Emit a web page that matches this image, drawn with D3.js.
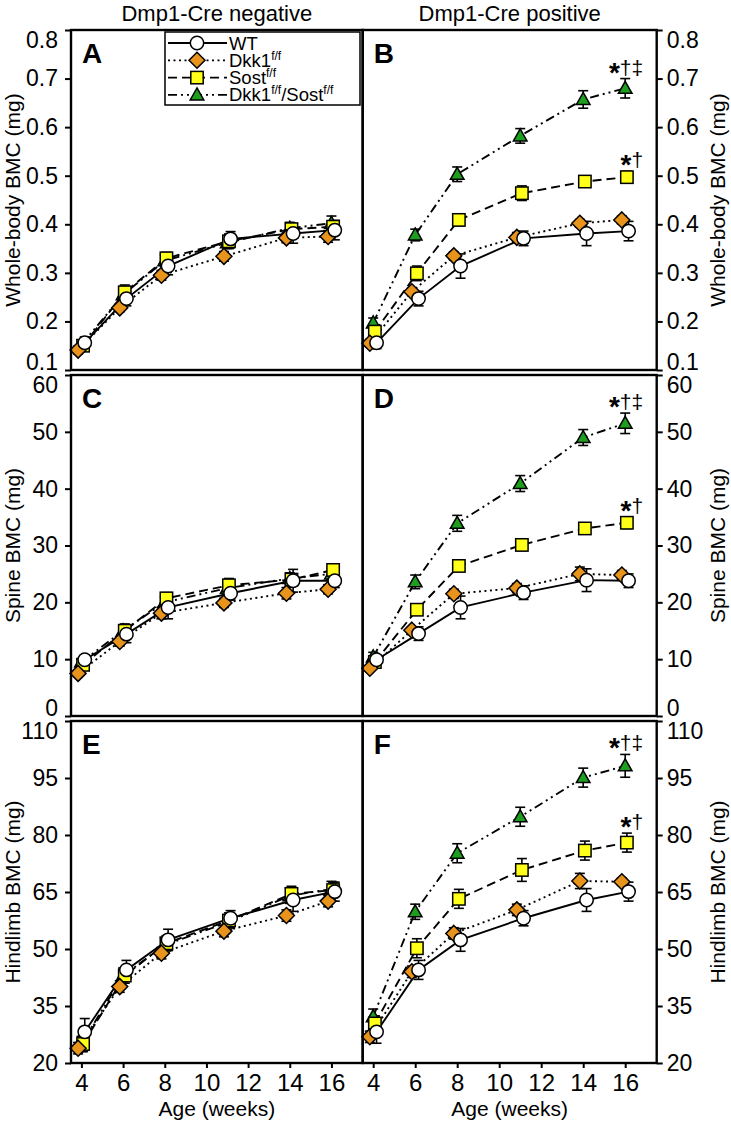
<!DOCTYPE html>
<html>
<head>
<meta charset="utf-8">
<script src="https://cdn.jsdelivr.net/npm/d3@7"></script>
<style>
  body { margin: 0; background: #fff; }
  text { font-family: "Liberation Sans", Arial, sans-serif; fill: #000; }
</style>
</head>
<body>
<svg id="chart" width="731" height="1124"></svg>
<script>
// ages (weeks)
var weeks = [4, 6, 8, 11, 14, 16];
var xTicks = [4, 6, 8, 10, 12, 14, 16];

// series: WT, Dkk1 f/f, Sost f/f, Dkk1 f/f / Sost f/f
// A - whole body, Cre negative
var A_WT   = [0.156, 0.247, 0.314, 0.370, 0.381, 0.388];
var A_Dkk1 = [0.141, 0.228, 0.295, 0.334, 0.372, 0.375];
var A_Sost = [0.150, 0.260, 0.330, 0.365, 0.390, 0.395];
var A_DS   = [0.152, 0.255, 0.325, 0.362, 0.392, 0.402];
var A_WT_se   = [0.012, 0.015, 0.018, 0.015, 0.020, 0.020];
var A_Dkk1_se = [0.008, 0.008, 0.010, 0.010, 0.010, 0.012];
var A_Sost_se = [0.010, 0.015, 0.012, 0.015, 0.012, 0.012];
var A_DS_se   = [0.010, 0.015, 0.012, 0.012, 0.012, 0.015];
// B - whole body, Cre positive
var B_WT   = [0.156, 0.247, 0.314, 0.371, 0.381, 0.386];
var B_Dkk1 = [0.155, 0.261, 0.335, 0.373, 0.402, 0.409];
var B_Sost = [0.179, 0.299, 0.409, 0.464, 0.488, 0.497];
var B_DS   = [0.197, 0.378, 0.503, 0.582, 0.657, 0.680];
var B_WT_se   = [0.012, 0.015, 0.025, 0.015, 0.025, 0.020];
var B_Dkk1_se = [0.008, 0.008, 0.008, 0.010, 0.008, 0.008];
var B_Sost_se = [0.010, 0.015, 0.012, 0.015, 0.010, 0.012];
var B_DS_se   = [0.010, 0.012, 0.015, 0.015, 0.018, 0.020];
// C - spine, Cre negative
var C_WT   = [9.9, 14.4, 19.1, 21.6, 23.8, 23.8];
var C_Dkk1 = [7.5, 13.1, 18.1, 19.9, 21.6, 22.3];
var C_Sost = [9.0, 15.0, 20.7, 23.0, 24.0, 25.7];
var C_DS   = [9.5, 15.0, 20.0, 22.5, 24.2, 25.0];
var C_WT_se   = [0.8, 1.5, 2.0, 1.2, 2.0, 1.2];
var C_Dkk1_se = [0.6, 0.8, 1.0, 0.8, 1.0, 0.8];
var C_Sost_se = [0.6, 1.2, 1.0, 1.2, 1.0, 1.0];
var C_DS_se   = [0.6, 1.0, 1.0, 1.0, 1.0, 1.0];
// D - spine, Cre positive
var D_WT   = [9.9, 14.5, 19.1, 21.7, 23.9, 23.8];
var D_Dkk1 = [8.4, 15.1, 21.5, 22.5, 25.0, 24.8];
var D_Sost = [9.5, 18.7, 26.4, 30.1, 33.0, 34.0];
var D_DS   = [10.4, 23.6, 33.9, 40.9, 49.0, 51.5];
var D_WT_se   = [0.8, 1.2, 2.0, 1.2, 2.0, 1.2];
var D_Dkk1_se = [0.5, 0.6, 0.8, 0.8, 1.2, 0.8];
var D_Sost_se = [0.6, 0.8, 0.8, 1.0, 0.8, 1.0];
var D_DS_se   = [0.8, 1.2, 1.4, 1.4, 1.4, 1.8];
// E - hindlimb, Cre negative
var E_WT   = [28.2, 44.5, 52.4, 58.1, 62.9, 65.1];
var E_Dkk1 = [23.9, 40.1, 48.9, 54.7, 58.8, 62.6];
var E_Sost = [25.0, 43.0, 51.5, 57.5, 64.5, 65.5];
var E_DS   = [25.0, 43.0, 51.0, 57.0, 64.0, 65.8];
var E_WT_se   = [3.5, 2.5, 2.8, 2.0, 3.0, 2.5];
var E_Dkk1_se = [1.5, 1.5, 1.5, 1.5, 1.5, 1.5];
var E_Sost_se = [2.0, 2.0, 2.0, 2.0, 2.0, 2.0];
var E_DS_se   = [2.0, 2.0, 2.0, 2.0, 2.0, 2.0];
// F - hindlimb, Cre positive
var F_WT   = [28.2, 44.5, 52.4, 58.1, 62.9, 65.1];
var F_Dkk1 = [26.9, 44.0, 54.1, 60.3, 67.9, 67.7];
var F_Sost = [30.4, 50.2, 63.2, 70.8, 75.9, 78.0];
var F_DS   = [32.2, 59.8, 75.2, 84.8, 95.1, 98.2];
var F_WT_se   = [3.0, 2.5, 3.0, 2.0, 3.0, 2.5];
var F_Dkk1_se = [1.5, 1.5, 1.5, 1.5, 2.0, 1.0];
var F_Sost_se = [2.0, 2.5, 2.5, 3.0, 2.5, 2.5];
var F_DS_se   = [2.0, 2.0, 2.5, 2.5, 2.5, 3.0];

var yTicksWB    = [0.1, 0.2, 0.3, 0.4, 0.5, 0.6, 0.7, 0.8];
var yTicksSpine = [0, 10, 20, 30, 40, 50, 60];
var yTicksHind  = [20, 35, 50, 65, 80, 95, 110];
var yTitles = ['Whole-body BMC (mg)', 'Spine BMC (mg)', 'Hindlimb BMC (mg)'];
var colTitles = ['Dmp1-Cre negative', 'Dmp1-Cre positive'];
var sigDS = ['*', '†‡'];
var sigSost = ['*', '†'];

var svg = d3.select('#chart');
svg.append('rect').attr('width', 731).attr('height', 1124).attr('fill', '#fff');

var colX = [[71, 362.7], [362.7, 656.7]];
var rowY = [[370, 30], [716, 375], [1063, 721]];
var rowDomain = [[0.1, 0.8], [0, 60], [20, 110]];
var rowTicks = [yTicksWB, yTicksSpine, yTicksHind];
var rowFmt = [d3.format('.1f'), d3.format('d'), d3.format('d')];

// drawing order: green, yellow, orange, white on top
var styles = [
  { key: 'DS',   dash: '9,4,2,4,2,4', fill: '#1e9e1e', shape: 'tri',  off: 0 },
  { key: 'Sost', dash: '9,5',         fill: '#ffff1a', shape: 'sq',   off: 0.08 },
  { key: 'Dkk1', dash: '2,3.5',       fill: '#e8941c', shape: 'dia',  off: -0.16 },
  { key: 'WT',   dash: null,          fill: '#ffffff', shape: 'circ', off: 0.16 }
];

var panels = [
  { id: 'A', col: 0, row: 0, m: { WT: A_WT, Dkk1: A_Dkk1, Sost: A_Sost, DS: A_DS }, se: { WT: A_WT_se, Dkk1: A_Dkk1_se, Sost: A_Sost_se, DS: A_DS_se } },
  { id: 'B', col: 1, row: 0, m: { WT: B_WT, Dkk1: B_Dkk1, Sost: B_Sost, DS: B_DS }, se: { WT: B_WT_se, Dkk1: B_Dkk1_se, Sost: B_Sost_se, DS: B_DS_se } },
  { id: 'C', col: 0, row: 1, m: { WT: C_WT, Dkk1: C_Dkk1, Sost: C_Sost, DS: C_DS }, se: { WT: C_WT_se, Dkk1: C_Dkk1_se, Sost: C_Sost_se, DS: C_DS_se } },
  { id: 'D', col: 1, row: 1, m: { WT: D_WT, Dkk1: D_Dkk1, Sost: D_Sost, DS: D_DS }, se: { WT: D_WT_se, Dkk1: D_Dkk1_se, Sost: D_Sost_se, DS: D_DS_se } },
  { id: 'E', col: 0, row: 2, m: { WT: E_WT, Dkk1: E_Dkk1, Sost: E_Sost, DS: E_DS }, se: { WT: E_WT_se, Dkk1: E_Dkk1_se, Sost: E_Sost_se, DS: E_DS_se } },
  { id: 'F', col: 1, row: 2, m: { WT: F_WT, Dkk1: F_Dkk1, Sost: F_Sost, DS: F_DS }, se: { WT: F_WT_se, Dkk1: F_Dkk1_se, Sost: F_Sost_se, DS: F_DS_se } }
];

function marker(g, shape, fill) {
  var p;
  if (shape == 'circ') p = g.append('circle').attr('r', 6.7);
  else if (shape == 'sq') p = g.append('rect').attr('x', -6.2).attr('y', -6.2).attr('width', 12.4).attr('height', 12.4);
  else if (shape == 'dia') p = g.append('path').attr('d', 'M0,-8L8,0L0,8L-8,0Z');
  else p = g.append('path').attr('d', 'M0,-7L6.8,5L-6.8,5Z');
  p.attr('fill', fill).attr('stroke', '#000').attr('stroke-width', 1.5);
}

panels.forEach(function(pn) {
  var x = d3.scaleLinear().domain([3.5, 17.5]).range(colX[pn.col]);
  var y = d3.scaleLinear().domain(rowDomain[pn.row]).range(rowY[pn.row]);
  var g = svg.append('g');

  // series lines, error bars, markers
  styles.forEach(function(st) {
    var vals = pn.m[st.key], errs = pn.se[st.key];
    var pts = weeks.map(function(w, i) { return { x: w + st.off, v: vals[i], e: errs[i] }; });
    var line = d3.line().x(function(d) { return x(d.x); }).y(function(d) { return y(d.v); });
    g.append('path').datum(pts).attr('d', line)
      .attr('fill', 'none').attr('stroke', '#000').attr('stroke-width', 1.9)
      .attr('stroke-dasharray', st.dash);
    pts.forEach(function(d) {
      var cx = x(d.x), y0 = y(d.v - d.e), y1 = y(d.v + d.e);
      g.append('line').attr('x1', cx).attr('x2', cx).attr('y1', y0).attr('y2', y1)
        .attr('stroke', '#000').attr('stroke-width', 1.6);
      [y0, y1].forEach(function(yy) {
        g.append('line').attr('x1', cx - 5).attr('x2', cx + 5).attr('y1', yy).attr('y2', yy)
          .attr('stroke', '#000').attr('stroke-width', 1.6);
      });
    });
  });
  styles.forEach(function(st) {
    var vals = pn.m[st.key];
    weeks.forEach(function(w, i) {
      var mg = g.append('g').attr('transform', 'translate(' + x(w + st.off) + ',' + y(vals[i]) + ')');
      marker(mg, st.shape, st.fill);
    });
  });

  // frame
  svg.append('rect').attr('x', colX[pn.col][0]).attr('y', rowY[pn.row][1])
    .attr('width', colX[pn.col][1] - colX[pn.col][0]).attr('height', rowY[pn.row][0] - rowY[pn.row][1])
    .attr('fill', 'none').attr('stroke', '#000').attr('stroke-width', 2.4);

  // y axis
  var yAx = (pn.col == 0 ? d3.axisLeft(y) : d3.axisRight(y))
    .tickValues(rowTicks[pn.row]).tickFormat(rowFmt[pn.row])
    .tickSize(6).tickSizeOuter(0).tickPadding(pn.col == 0 ? 7 : 4);
  var ga = svg.append('g')
    .attr('transform', 'translate(' + (pn.col == 0 ? colX[0][0] : colX[1][1]) + ',0)')
    .call(yAx);
  ga.select('.domain').remove();
  ga.selectAll('line').attr('stroke-width', 2);
  var nT = rowTicks[pn.row].length;
  ga.selectAll('text').style('font-size', '23px').attr('fill', '#000')
    .attr('transform', function(d, i) {
      if (i == nT - 1) return 'translate(0,10)';
      if (i == 0 && pn.row < 2) return 'translate(0,-8)';
      return null;
    });

  // x axis on bottom row
  if (pn.row == 2) {
    var gx = svg.append('g').attr('transform', 'translate(0,' + rowY[2][0] + ')')
      .call(d3.axisBottom(x).tickValues(xTicks).tickSize(5).tickSizeOuter(0).tickPadding(6));
    gx.select('.domain').remove();
    gx.selectAll('line').attr('stroke-width', 2);
    gx.selectAll('text').style('font-size', '24px').attr('fill', '#000');
    svg.append('text').attr('x', (colX[pn.col][0] + colX[pn.col][1]) / 2).attr('y', 1116)
      .attr('text-anchor', 'middle').style('font-size', '21px').text('Age (weeks)');
  }

  // y title
  var tx = pn.col == 0 ? 13 : 718;
  var ty = (rowY[pn.row][0] + rowY[pn.row][1]) / 2;
  svg.append('text').attr('transform', 'translate(' + tx + ',' + ty + ') rotate(-90)')
    .attr('text-anchor', 'middle').attr('dy', '0.35em').style('font-size', '21px')
    .text(yTitles[pn.row]);

  // panel letter
  svg.append('text').attr('x', colX[pn.col][0] + 11).attr('y', rowY[pn.row][1] + 33)
    .style('font-size', '28px').style('font-weight', 'bold').text(pn.id);

  // significance marks
  if (pn.col == 1) {
    [[pn.m.DS, pn.se.DS, sigDS], [pn.m.Sost, pn.se.Sost, sigSost]].forEach(function(s) {
      var t = svg.append('text').attr('x', x(16) + 18).attr('y', y(s[0][5] + s[1][5]) - 4)
        .attr('text-anchor', 'end');
      t.append('tspan').style('font-size', '28px').style('font-weight', 'bold').attr('dy', 7).text(s[2][0]);
      t.append('tspan').style('font-size', '21px').attr('dy', -7).text(s[2][1]);
    });
  }
});

// column titles
colTitles.forEach(function(t, i) {
  svg.append('text').attr('x', (colX[i][0] + colX[i][1]) / 2).attr('y', 21)
    .attr('text-anchor', 'middle').style('font-size', '22px').text(t);
});

// legend in panel A
var legendLabels = [['WT'], ['Dkk1', 'f/f'], ['Sost', 'f/f'], ['Dkk1', 'f/f', '/Sost', 'f/f']];
var legendOrder = ['WT', 'Dkk1', 'Sost', 'DS'];
var lg = svg.append('g');
lg.append('rect').attr('x', 165).attr('y', 32).attr('width', 195).attr('height', 73)
  .attr('fill', '#fff').attr('stroke', '#000').attr('stroke-width', 1.5);
legendOrder.forEach(function(k, i) {
  var st = styles.filter(function(s) { return s.key == k; })[0];
  var cy = 43 + i * 17.3;
  lg.append('line').attr('x1', 168).attr('x2', 227).attr('y1', cy).attr('y2', cy)
    .attr('stroke', '#000').attr('stroke-width', 1.8).attr('stroke-dasharray', st.dash);
  marker(lg.append('g').attr('transform', 'translate(197,' + cy + ')'), st.shape, st.fill);
  var t = lg.append('text').attr('x', 229).attr('y', cy + 6.5).style('font-size', '18.5px');
  legendLabels[i].forEach(function(part, j) {
    var sp = t.append('tspan').text(part);
    if (j % 2 == 1) sp.style('font-size', '12px').attr('dy', -7);
    else if (j > 0) sp.attr('dy', 7);
  });
});
</script>
</body>
</html>
